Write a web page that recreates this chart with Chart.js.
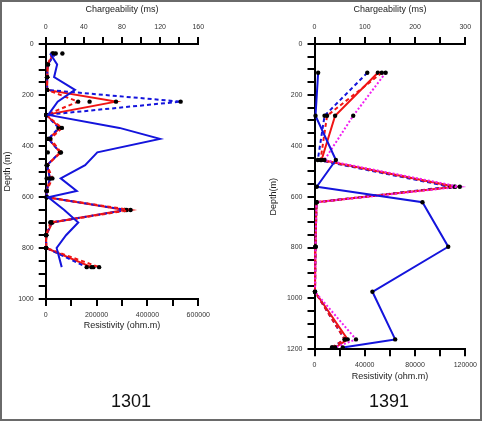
<!DOCTYPE html>
<html>
<head>
<meta charset="utf-8">
<script src="https://cdn.jsdelivr.net/npm/chart.js@4.4.1/dist/chart.umd.min.js"></script>
<style>
  body { margin: 0; background: #fff; }
  canvas { position: absolute; top: 0; }
  #frame { position: absolute; left: 0; top: 0; width: 482px; height: 421px; box-sizing: border-box;
           border: 2px solid #6a6a6a; pointer-events: none; }
  .well { position: absolute; top: 390.5px; width: 100px; text-align: center; line-height: 20px;
          font: 18px "Liberation Sans", Arial, sans-serif; color: #111; }
</style>
</head>
<body>
<canvas id="c1301" width="241" height="421" style="left:0"></canvas>
<canvas id="c1391" width="241" height="421" style="left:241px"></canvas>
<div class="well" style="left:81px">1301</div>
<div class="well" style="left:339px">1391</div>
<div id="frame"></div>
<script>
// ---- well 1301 ----
const depth1301 = [37, 80, 130, 180, 226, 278, 329, 372, 425, 475, 527, 576, 601, 651, 700, 750, 800, 875];
const res1301 = [17000, 45000, 33000, 115000, 47000, 10000, 290000, 449000, 203000, 155000, 59000, 122000, 10000, 73000, 128000, 80000, 43000, 63000];
const chgSolid1301 = [8, 2.5, 1.5, 1.5, 73.7, 0.5, 15, 3, 15, 1.5, 4.5, 1, 1, 83, 7, 0.5, 0.5, 48];
const chgBlueDash1301 = [10.5, 2, 1.5, 1.5, 141.5, 0.5, 13.6, 3, 15, 1.5, 4.5, 1, 1, 85, 6, 0.5, 0.5, 43];
const chgRedDash1301 = [7, 2, 1.5, 1.5, 34, 0.5, 17, 5, 16, 1.5, 7, 1, 1, 89, 5, 0.5, 0.5, 56];
const chgExtra1301 = [17.5, 2, 1.5, 1.5, 46, 0.5, 13.6, 2, 2.2, 1, 1, 1, 1, 83, 5, 0.5, 0.5, 50];

// ---- well 1391 ----
const depth1391 = [113, 282, 456, 561, 622, 797, 974, 1161, 1193];
const res1391 = [2900, 800, 17000, 1800, 85900, 106400, 46100, 64200, 22500];
const chgSolid1391 = [126, 41, 14, 280, 4, 2, 1, 66, 41];
const chgBlueDash1391 = [105, 20, 6.5, 270, 4, 2, 1, 60, 35];
const chgRedDash1391 = [134, 25, 12, 278, 4, 2, 1, 60, 35];
const chgMagenta1391 = [141.5, 77, 19.7, 289, 4, 2, 1, 82.5, 41];

// tick labels
const depthLabels1301 = [0, 200, 400, 600, 800, 1000];
const chgLabels1301 = [0, 40, 80, 120, 160];
const resLabels1301 = [0, 200000, 400000, 600000];
const depthLabels1391 = [0, 200, 400, 600, 800, 1000, 1200];
const chgLabels1391 = [0, 100, 200, 300];
const resLabels1391 = [0, 40000, 80000, 120000];

const FONT = "'Liberation Sans', Arial, sans-serif";
const BLUE = "#1414dc", RED = "#f01414", MAGENTA = "#f020f0";

function series(depth, vals, axis, color, dash, dots) {
  return {
    data: vals.map((v, i) => ({ x: v, y: depth[i] })),
    xAxisID: axis,
    yAxisID: "y",
    showLine: !!color,
    borderColor: color || "transparent",
    borderWidth: 2,
    borderDash: dash || [],
    pointRadius: dots ? 2.2 : 0,
    pointBackgroundColor: "#000",
    pointBorderWidth: 0,
    clip: false,
    tension: 0
  };
}

const gridOpts = { display: true, drawOnChartArea: false, drawTicks: true, tickLength: 7, lineWidth: 2, tickWidth: 2, tickColor: "#000" };

function hAxis(pos, max, step, labels, title, h, pad, titlePad) {
  return {
    type: "linear", position: pos, min: 0, max: max,
    border: { display: true, color: "#000", width: 2 },
    grid: gridOpts,
    ticks: {
      stepSize: step, autoSkip: false, maxRotation: 0, padding: pad,
      color: "#333", font: { family: FONT, size: 7 },
      callback: v => labels.includes(v) ? String(v) : ""
    },
    title: { display: true, text: title, color: "#222", font: { family: FONT, size: 9 }, padding: titlePad },
    afterFit: s => { s.height = h; }
  };
}

function vAxis(max, labels, title, w) {
  return {
    type: "linear", position: "left", reverse: true, min: 0, max: max,
    border: { display: true, color: "#000", width: 2 },
    grid: gridOpts,
    ticks: {
      stepSize: 50, autoSkip: false, padding: 5,
      color: "#333", font: { family: FONT, size: 7 },
      callback: v => labels.includes(v) ? String(v) : ""
    },
    title: { display: true, text: title, color: "#222", font: { family: FONT, size: 9 }, padding: { top: 2, bottom: 0 } },
    afterFit: s => { s.width = w; }
  };
}

function makeChart(id, datasets, scales, padding) {
  return new Chart(document.getElementById(id), {
    type: "scatter",
    data: { datasets: datasets },
    options: {
      responsive: false,
      animation: false,
      layout: { padding: padding },
      plugins: { legend: { display: false }, tooltip: { enabled: false } },
      scales: scales
    }
  });
}

makeChart("c1301", [
  series(depth1301, res1301, "xr", BLUE, null, false),
  series(depth1301, chgRedDash1301, "xc", RED, [4, 3], true),
  series(depth1301, chgBlueDash1301, "xc", BLUE, [4, 3], true),
  series(depth1301, chgSolid1301, "xc", RED, null, true),
  series(depth1301, chgExtra1301, "xc", null, null, true)
], {
  xc: hAxis("top", 160, 20, chgLabels1301, "Chargeability (ms)", 44, 6, { top: 4.6, bottom: 0 }),
  xr: hAxis("bottom", 600000, 100000, resLabels1301, "Resistivity (ohm.m)", 33, 5, { top: 0, bottom: 0.6 }),
  y: vAxis(1000, depthLabels1301, "Depth (m)", 45.7)
}, { left: 0, top: 0, right: 42.7, bottom: 89 });

makeChart("c1391", [
  series(depth1391, res1391, "xr", BLUE, null, true),
  series(depth1391, chgMagenta1391, "xc", MAGENTA, [2, 2], true),
  series(depth1391, chgRedDash1391, "xc", RED, [4, 3], true),
  series(depth1391, chgBlueDash1391, "xc", BLUE, [4, 3], true),
  series(depth1391, chgSolid1391, "xc", RED, null, true)
], {
  xc: hAxis("top", 300, 50, chgLabels1391, "Chargeability (ms)", 44, 6, { top: 4.6, bottom: 0 }),
  xr: hAxis("bottom", 120000, 20000, resLabels1391, "Resistivity (ohm.m)", 33, 5, { top: 0, bottom: 0.6 }),
  y: vAxis(1200, depthLabels1391, "Depth(m)", 48)
}, { left: 25.5, top: 0, right: 15.3, bottom: 38.7 });
</script>
</body>
</html>
